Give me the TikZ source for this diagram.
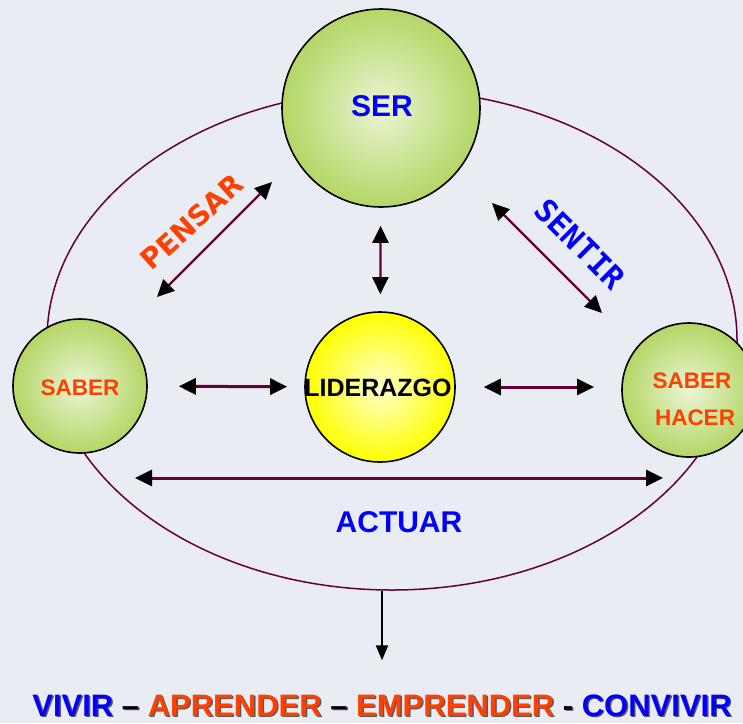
\documentclass[tikz,border=0pt]{standalone}
\usepackage{fontspec}
\setmainfont{Liberation Sans}
\newfontfamily\pensarfont{DejaVu Sans}
\newfontfamily\sentirfont{DejaVu Sans Mono}
\usetikzlibrary{shapes.geometric,arrows.meta}
\definecolor{fondo}{RGB}          {233, 236, 242}
\definecolor{verde-claro}{RGB}    {235, 245, 212}
\definecolor{verde}{RGB}          {180, 214, 102}
\definecolor{amarillo-claro}{RGB} {255, 255, 205}
\definecolor{amarillo}{RGB}       {255, 255,   0}
\definecolor{granate}{RGB}        {102,   0,  51}
\definecolor{naranja}{RGB}        {255,  64,   0}
\definecolor{azul}{RGB}           {  0,   0, 255}
\definecolor{sombra}{RGB}         { 90,  90,  90}

\tikzset{
	esfera/.style={circle, draw=black, line width=1.6pt, inner sep=0pt,
		inner color=verde-claro, outer color=verde},
	rotulo/.style={inner sep=0pt, font=\bfseries\fontsize{#1}{#1}\selectfont},
	enlace/.style={draw=granate, line width=#1,
		{Triangle[length=17pt,width=16pt,color=black]}-{Triangle[length=17pt,width=16pt,color=black]}},
	enlace/.default=3pt
}

\begin{document}
\begin{tikzpicture}[x=1pt,y=-1pt]
	\fill[fondo] (0,0) rectangle (743,723);
	\useasboundingbox (0,0) rectangle (743,723);

	% elipse de fondo
	\node[ellipse, draw=granate, line width=1.5pt, inner sep=0pt,
		minimum width=690pt, minimum height=500pt] (ciclo) at (392,340) {};

	% esferas
	\node[esfera, minimum size=198pt] (ser) at (381,108) {};
	\node[esfera, minimum size=134pt] (saber) at (80,386) {};
	\node[esfera, minimum size=134pt] (hacer) at (689,390) {};
	\node[esfera, minimum size=150pt, inner color=amarillo-claro, outer color=amarillo] (lider) at (380,387) {};

	\node[rotulo=30, text=azul] (ser-txt) at (382,106) {SER};
	\node[rotulo=22.5, text=naranja] (saber-txt) at (80,388) {SABER};
	\node[rotulo=22.5, text=naranja, align=center] (hacer-txt) at (692,399)
		{SABER\\[14pt]\hspace*{6pt}HACER};
	\node[rotulo=25] (lider-txt) at (378,388) {LIDERAZGO};

	% flechas
	\coordinate (pensar-a) at (157,297);
	\coordinate (pensar-b) at (272,182);
	\coordinate (sentir-a) at (492,203);
	\coordinate (sentir-b) at (602,313);
	\coordinate (actuar-a) at (135,478);
	\coordinate (actuar-b) at (663,478);

	\draw[enlace=2.2pt, shorten <=18pt, shorten >=17pt] (ser) -- (lider);
	\draw[enlace, shorten <=31pt, shorten >=17pt] (saber) -- (lider);
	\draw[enlace, shorten <=28pt, shorten >=95pt] (lider) -- (lider -| hacer);
	\draw[enlace=2.2pt] (pensar-a) -- (pensar-b);
	\draw[enlace=2.2pt] (sentir-a) -- (sentir-b);
	\draw[enlace] (actuar-a) -- (actuar-b);

	\node[rotulo=28, text=naranja, rotate=42] (pensar) at (192,222) {\pensarfont PENSAR};
	\node[rotulo=31, text=azul, rotate=-45] (sentir) at (580,244) {\sentirfont SENTIR};
	\node[rotulo=30, text=azul] (actuar) at (399,522) {ACTUAR};

	% lema final
	\node[rotulo=31, text=sombra] (lema-sombra) at (383.5,707)
		{VIVIR -- APRENDER -- EMPRENDER - CONVIVIR};
	\node[rotulo=31] (lema) at (382,705.5)
		{\textcolor{azul}{VIVIR} -- \textcolor{naranja}{APRENDER} -- \textcolor{naranja}{EMPRENDER} - \textcolor{azul}{CONVIVIR}};

	\draw[black, line width=2pt, shorten >=34pt, -{Triangle[length=15pt,width=12pt]}]
		(ciclo.south -| lema) -- (lema.north);
\end{tikzpicture}
\end{document}
